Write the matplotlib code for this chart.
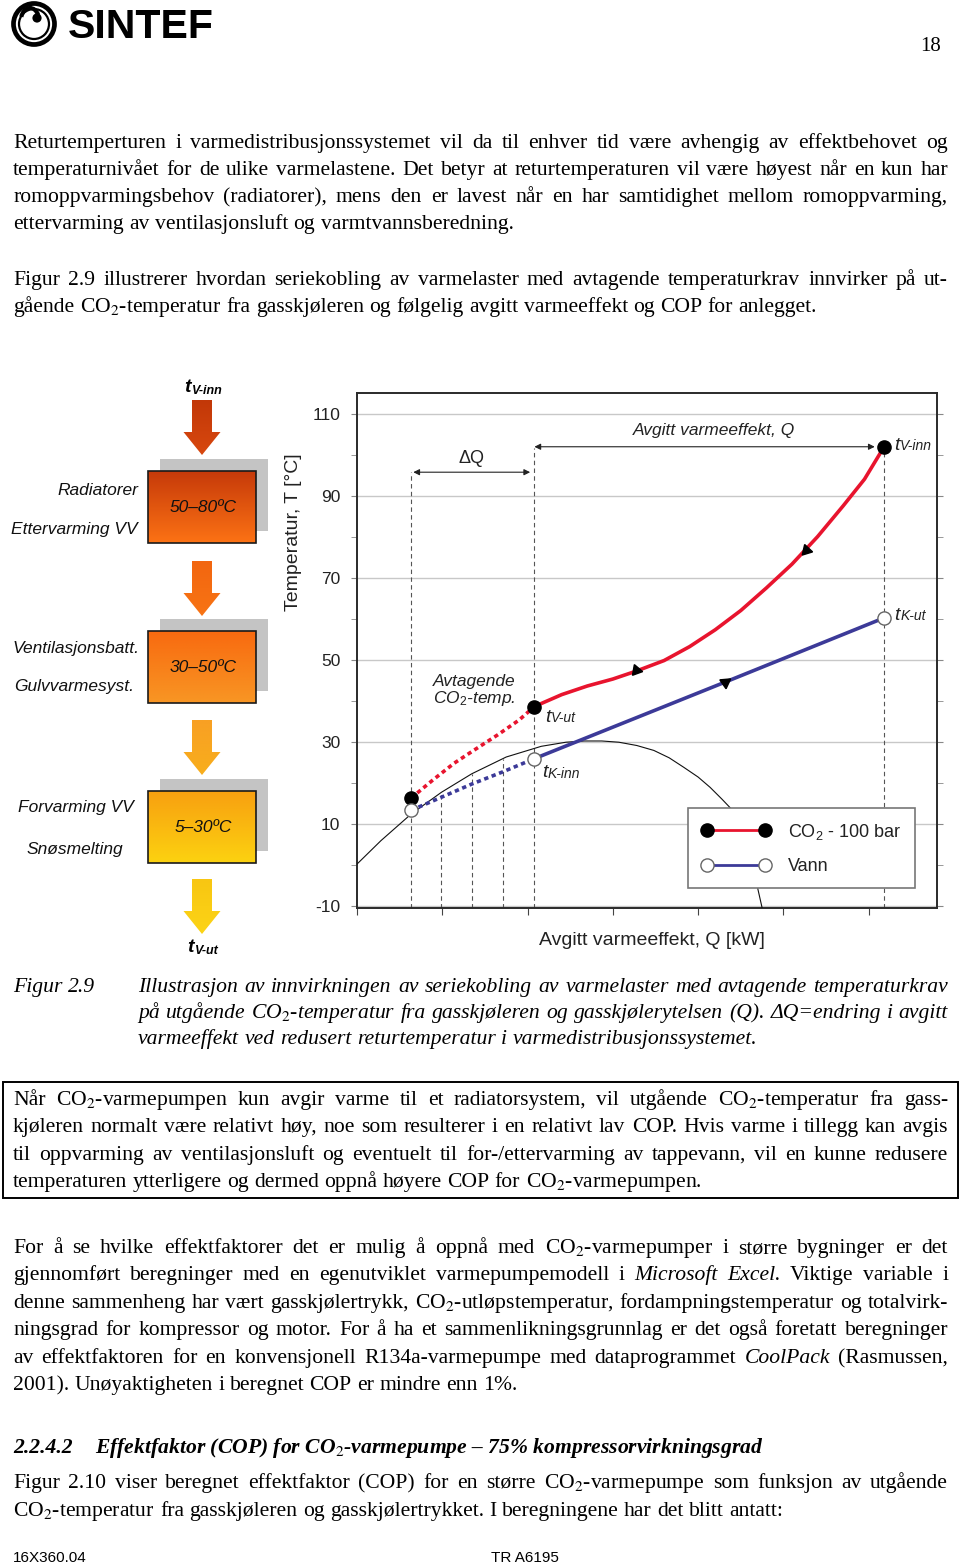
import matplotlib
matplotlib.use("Agg")
import matplotlib.pyplot as plt
import numpy as np
from matplotlib.patches import Rectangle, Polygon, Circle, Arc
from matplotlib.lines import Line2D
from matplotlib.colors import to_rgb

plt.rcParams['mathtext.fontset'] = 'custom'
plt.rcParams['mathtext.rm'] = 'Liberation Sans'
plt.rcParams['mathtext.it'] = 'Liberation Sans:italic'
plt.rcParams['font.family'] = ['Liberation Sans', 'DejaVu Sans']

SERIF = ['Liberation Serif', 'DejaVu Serif']
SANS = ['Liberation Sans', 'DejaVu Sans']

# ---------------- data ----------------
q_ticks = [0, 1, 2, 3, 4, 5, 6]
T_major = [-10, 10, 30, 50, 70, 90, 110]
T_minor = [0, 20, 40, 60, 80, 100]

co2_q = [2.08, 2.4, 2.7, 3.0, 3.27, 3.6, 3.9, 4.2, 4.5, 4.8, 5.1, 5.4, 5.7, 5.95, 6.18]
co2_T = [38.6, 41.5, 43.6, 45.3, 47.2, 49.8, 53.2, 57.3, 62.0, 67.5, 73.3, 80.0, 87.5, 94.0, 101.9]
co2_dot_q = [0.635, 0.89, 1.14, 1.345, 1.65, 1.90, 2.08]
co2_dot_T = [16.3, 20.7, 24.8, 27.6, 31.7, 35.3, 38.6]
water_q = [2.08, 4.31, 6.18]
water_T = [25.9, 44.5, 60.2]
water_dot_q = [0.635, 0.99, 1.345, 1.70, 2.08]
water_dot_T = [13.3, 16.5, 19.7, 22.6, 25.9]
dome_q = [0.0, 0.28, 0.635, 0.99, 1.345, 1.75, 2.16, 2.45, 2.665, 2.87, 3.07, 3.28, 3.48, 3.66, 3.83, 4.0, 4.14, 4.28, 4.39, 4.5, 4.59, 4.66, 4.70, 4.75]
dome_T = [0.2, 5.9, 12.4, 17.7, 22.2, 26.3, 28.9, 29.9, 30.2, 30.2, 29.9, 29.1, 27.9, 26.1, 23.8, 21.4, 18.9, 16.0, 13.6, 10.2, 5.9, 1.0, -5.9, -10.5]
co2_pts_q = [0.635, 2.08, 6.18]
co2_pts_T = [16.3, 38.6, 101.9]
water_pts_q = [0.635, 2.08, 6.18]
water_pts_T = [13.3, 25.9, 60.2]
vline_q = [0.635, 0.99, 1.345, 1.71, 2.08, 6.18]
vline_top = [95.7, 17.7, 22.2, 25.9, 101.7, 101.9]
co2_arrow_q = [5.26, 3.27]
co2_arrow_T = [76.8, 47.4]
water_arrow_q = [4.31]
water_arrow_T = [44.5]
q_span = [2.08, 6.07]
q_span_T = 101.9
dq_span = [0.66, 2.03]
dq_span_T = 95.7
legend_labels = ['CO$_2$ - 100 bar', 'Vann']

stage_ranges = ['50–80ºC', '30–50ºC', '5–30ºC']
stage_left = [('Radiatorer', 'Ettervarming VV'), ('Ventilasjonsbatt.', 'Gulvvarmesyst.'), ('Forvarming VV', 'Snøsmelting')]

RED = '#e8142e'
BLUE = '#3c3a98'
DARK = '#222222'
BODY = 15.6

fig = plt.figure(figsize=(9.6, 15.63), dpi=100)
ov = fig.add_axes([0, 0, 1, 1])
ov.set_xlim(0, 960)
ov.set_ylim(1563, 0)
ov.axis('off')
ov.set_autoscale_on(False)
renderer = fig.canvas.get_renderer()

# ---------------- header ----------------
ov.add_patch(Circle((34, 24), 20.5, fill=False, ec='black', lw=3.4))
ov.add_patch(Circle((34, 24), 15.0, fill=False, ec='black', lw=1.6))
ov.add_patch(Circle((37, 18), 4.6, fc='black', ec='none'))
ov.add_patch(Arc((30, 20), 18, 24, theta1=200, theta2=330, ec='black', lw=3.0))
ov.text(68, 38, 'SINTEF', fontsize=29.5, fontweight='bold', family=SANS, ha='left', va='baseline')
ov.text(941, 51, '18', fontsize=15, family=SERIF, ha='right', va='baseline')

# ---------------- paragraph helper ----------------
space_w = 5.4


def text_line(y, s, x0=13, x1=948, justify=True, size=BODY, style='normal', weight='normal'):
    toks = s.split(' ')
    arts, widths = [], []
    for tok in toks:
        st = style
        if tok.startswith('~'):
            tok = tok[1:]
            st = 'italic'
        t = ov.text(0, y, tok, fontsize=size, fontstyle=st, fontweight=weight,
                    family=SERIF, math_fontfamily='stix', ha='left', va='baseline', color='black')
        w = t.get_window_extent(renderer=renderer).width
        arts.append(t)
        widths.append(w)
    if justify and len(toks) > 1:
        gap = (x1 - x0 - sum(widths)) / (len(toks) - 1)
    else:
        gap = space_w
    x = x0
    for t, w in zip(arts, widths):
        t.set_x(x)
        x += w + gap


para1 = [
    'Returtemperturen i varmedistribusjonssystemet vil da til enhver tid være avhengig av effektbehovet og',
    'temperaturnivået for de ulike varmelastene. Det betyr at returtemperaturen vil være høyest når en kun har',
    'romoppvarmingsbehov (radiatorer), mens den er lavest når en har samtidighet mellom romoppvarming,',
    'ettervarming av ventilasjonsluft og varmtvannsberedning.',
]
for i, (yy, s) in enumerate(zip([148, 175, 202, 229], para1)):
    text_line(yy, s, justify=(i < 3))

para2 = [
    'Figur 2.9 illustrerer hvordan seriekobling av varmelaster med avtagende temperaturkrav innvirker på ut-',
    'gående CO$_2$-temperatur fra gasskjøleren og følgelig avgitt varmeeffekt og COP for anlegget.',
]
for i, (yy, s) in enumerate(zip([285, 312], para2)):
    text_line(yy, s, justify=(i < 1))

# caption
text_line(992, 'Figur 2.9', x0=13, justify=False, style='italic')
cap = [
    'Illustrasjon av innvirkningen av seriekobling av varmelaster med avtagende temperaturkrav',
    'på utgående CO$_2$-temperatur fra gasskjøleren og gasskjølerytelsen (Q). ΔQ=endring i avgitt',
    'varmeeffekt ved redusert returtemperatur i varmedistribusjonssystemet.',
]
for i, (yy, s) in enumerate(zip([992, 1018, 1044], cap)):
    text_line(yy, s, x0=138, justify=(i < 2), style='italic')

# boxed paragraph
ov.add_patch(Rectangle((3, 1082), 955, 116, fill=False, ec='black', lw=1.4))
boxp = [
    'Når CO$_2$-varmepumpen kun avgir varme til et radiatorsystem, vil utgående CO$_2$-temperatur fra gass-',
    'kjøleren normalt være relativt høy, noe som resulterer i en relativt lav COP. Hvis varme i tillegg kan avgis',
    'til oppvarming av ventilasjonsluft og eventuelt til for-/ettervarming av tappevann, vil en kunne redusere',
    'temperaturen ytterligere og dermed oppnå høyere COP for CO$_2$-varmepumpen.',
]
for i, (yy, s) in enumerate(zip([1105, 1132, 1160, 1187], boxp)):
    text_line(yy, s, justify=(i < 3))

para3 = [
    'For å se hvilke effektfaktorer det er mulig å oppnå med CO$_2$-varmepumper i større bygninger er det',
    'gjennomført beregninger med en egenutviklet varmepumpemodell i ~Microsoft ~Excel. Viktige variable i',
    'denne sammenheng har vært gasskjølertrykk, CO$_2$-utløpstemperatur, fordampningstemperatur og totalvirk-',
    'ningsgrad for kompressor og motor. For å ha et sammenlikningsgrunnlag er det også foretatt beregninger',
    'av effektfaktoren for en konvensjonell R134a-varmepumpe med dataprogrammet ~CoolPack (Rasmussen,',
    '2001). Unøyaktigheten i beregnet COP er mindre enn 1%.',
]
for i, (yy, s) in enumerate(zip([1253, 1280, 1308, 1335, 1363, 1390], para3)):
    text_line(yy, s, justify=(i < 5))

ov.text(13, 1453, '2.2.4.2', fontsize=BODY, fontstyle='italic', fontweight='bold', family=SERIF,
        ha='left', va='baseline')
ov.text(95, 1453, 'Effektfaktor (COP) for CO$_2$-varmepumpe – 75% kompressorvirkningsgrad', fontsize=BODY,
        fontstyle='italic', fontweight='bold', family=SERIF, math_fontfamily='stix', ha='left', va='baseline')

para4 = [
    'Figur 2.10 viser beregnet effektfaktor (COP) for en større CO$_2$-varmepumpe som funksjon av utgående',
    'CO$_2$-temperatur fra gasskjøleren og gasskjølertrykket. I beregningene har det blitt antatt:',
]
for i, (yy, s) in enumerate(zip([1488, 1516], para4)):
    text_line(yy, s, justify=(i < 1))

ov.text(13, 1562, '16X360.04', fontsize=11, family=SANS, ha='left', va='baseline')
ov.text(491, 1562, 'TR A6195', fontsize=11, family=SANS, ha='left', va='baseline')

# ---------------- left diagram ----------------
def vgrad(c_top, c_bot, n=64):
    a = np.array(to_rgb(c_top))
    b = np.array(to_rgb(c_bot))
    t = np.linspace(0, 1, n)[:, None]
    return (a * (1 - t) + b * t)[:, None, :]


def flow_arrow(y0, c_top, c_bot, cx=202):
    pts = [(cx - 10, y0), (cx + 10, y0), (cx + 10, y0 + 32), (cx + 18.5, y0 + 32),
           (cx, y0 + 55), (cx - 18.5, y0 + 32), (cx - 10, y0 + 32)]
    poly = Polygon(pts, closed=True, fc='none', ec='none')
    ov.add_patch(poly)
    im = ov.imshow(vgrad(c_top, c_bot), extent=(cx - 19, cx + 19, y0 + 55, y0), origin='upper',
                   aspect='auto', interpolation='bilinear', zorder=2)
    im.set_clip_path(poly)


def stage_box(y0, c_top, c_bot, label):
    ov.add_patch(Rectangle((160, y0 - 12), 108, 72, fc='#c4c4c4', ec='none', zorder=1))
    ov.imshow(vgrad(c_top, c_bot), extent=(148, 256, y0 + 72, y0), origin='upper',
              aspect='auto', interpolation='bilinear', zorder=2)
    ov.add_patch(Rectangle((148, y0), 108, 72, fill=False, ec='#1a1a1a', lw=1.2, zorder=3))
    ov.text(203, y0 + 37, label, fontsize=12.5, fontstyle='italic', family=SANS,
            ha='center', va='center', color='#111', zorder=4)


flow_arrow(400, '#c23808', '#d8480f')
flow_arrow(561, '#f26610', '#f87414')
flow_arrow(720, '#f8a024', '#f8ae1c')
flow_arrow(879, '#f8c612', '#fcd416')
stage_box(471, '#c63a0a', '#fc7214', stage_ranges[0])
stage_box(631, '#f86a10', '#f89624', stage_ranges[1])
stage_box(791, '#f8a010', '#fcd210', stage_ranges[2])

left_pos = [((138, 495), (138, 534)), ((139, 653), (134, 691)), ((134, 812), (123, 854))]
for (a, b), ((xa, ya), (xb, yb)) in zip(stage_left, left_pos):
    ov.text(xa, ya, a, fontsize=12.5, fontstyle='italic', family=SANS, ha='right', va='baseline', color='#111')
    ov.text(xb, yb, b, fontsize=12.5, fontstyle='italic', family=SANS, ha='right', va='baseline', color='#111')

ov.text(184, 392, 't', fontsize=14, fontstyle='italic', fontweight='bold', family=SANS, ha='left', va='baseline')
ov.text(192, 394, 'V-inn', fontsize=9, fontstyle='italic', fontweight='bold', family=SANS, ha='left', va='baseline')
ov.text(187, 952, 't', fontsize=14, fontstyle='italic', fontweight='bold', family=SANS, ha='left', va='baseline')
ov.text(195, 954, 'V-ut', fontsize=9, fontstyle='italic', fontweight='bold', family=SANS, ha='left', va='baseline')

# ---------------- chart ----------------
W, H = 960, 1563
ax = fig.add_axes([357 / W, (H - 908) / H, 580 / W, 515 / H])
ax.set_xlim(0, 6.8)
ax.set_ylim(-10.5, 115)
ax.set_xticks(q_ticks)
ax.set_xticklabels([])
ax.set_yticks(T_major)
ax.set_yticks(T_minor, minor=True)
ax.set_yticklabels([str(v) for v in T_major])
ax.tick_params(axis='y', which='both', left=True, right=True, direction='out', length=4,
               color='#888', labelsize=12.5, labelcolor=DARK, pad=8)
ax.tick_params(axis='x', which='both', bottom=True, direction='out', length=5, color='#444')
ax.grid(axis='y', which='major', color='#c8c8c8', lw=1.0, zorder=0)
ax.set_axisbelow(True)
for sp in ax.spines.values():
    sp.set_color('#2a2a2a')
    sp.set_linewidth(1.4)

for q, top in zip(vline_q, vline_top):
    ax.plot([q, q], [-10.5, top], color='#555', lw=0.8, ls=(0, (4, 3)), zorder=2)

ax.plot(dome_q, dome_T, color='#111', lw=0.8, zorder=3)
ax.plot(co2_dot_q, co2_dot_T, color=RED, lw=2.6, ls=(0, (1.2, 1.0)), zorder=4)
ax.plot(water_dot_q, water_dot_T, color=BLUE, lw=2.6, ls=(0, (1.2, 1.0)), zorder=4)
ax.plot(co2_q, co2_T, color=RED, lw=2.6, solid_capstyle='round', zorder=4)
ax.plot(water_q, water_T, color=BLUE, lw=2.6, solid_capstyle='round', zorder=4)

for q, T, rot in zip(co2_arrow_q, co2_arrow_T, [137, 20]):
    ax.plot(q, T, marker=(3, 0, rot), ms=9, color='black', zorder=5)
for q, T, rot in zip(water_arrow_q, water_arrow_T, [185]):
    ax.plot(q, T, marker=(3, 0, rot), ms=9, color='black', zorder=5)

ax.plot(co2_pts_q, co2_pts_T, ls='none', marker='o', ms=9.5, mfc='black', mec='black', zorder=6)
ax.plot(water_pts_q, water_pts_T, ls='none', marker='o', ms=9.5, mfc='white', mec='#666', mew=1.0, zorder=6)

ax.annotate('', xy=(q_span[0], q_span_T), xytext=(q_span[1], q_span_T),
            arrowprops=dict(arrowstyle='<|-|>', color='#222', lw=0.8, mutation_scale=9, shrinkA=0, shrinkB=0))
ax.annotate('', xy=(dq_span[0], dq_span_T), xytext=(dq_span[1], dq_span_T),
            arrowprops=dict(arrowstyle='<|-|>', color='#222', lw=0.8, mutation_scale=9, shrinkA=0, shrinkB=0))
ax.text(4.19, 105.8, 'Avgitt varmeeffekt, Q', fontsize=12.5, fontstyle='italic', color=DARK,
        ha='center', va='center')
ax.text(1.345, 99.0, 'ΔQ', fontsize=13, color=DARK, ha='center', va='center')
ax.text(0.89, 44.7, 'Avtagende', fontsize=12.5, fontstyle='italic', color=DARK, ha='left', va='center')
ax.text(0.89, 40.5, 'CO$_{\\mathit{2}}$-temp.', fontsize=12.5, fontstyle='italic', color=DARK, ha='left', va='center')


def t_label(q, T, sub):
    t = ax.text(q, T, 't', fontsize=14, fontstyle='italic', color=DARK, ha='left', va='center', zorder=7)
    ax.annotate(sub, xy=(1, 0), xycoords=t, xytext=(0.3, 0.5), textcoords='offset points',
                fontsize=10, fontstyle='italic', color=DARK, ha='left', va='bottom', zorder=7)


t_label(6.30, 102.3, 'V-inn')
t_label(6.30, 60.8, 'K-ut')
t_label(2.20, 36.0, 'V-ut')
t_label(2.17, 22.4, 'K-inn')

ax.text(-0.110, 0.730, 'Temperatur, T [°C]', transform=ax.transAxes, rotation=90,
        fontsize=14, color=DARK, ha='center', va='center')
ax.text(0.509, -0.064, 'Avgitt varmeeffekt, Q [kW]', transform=ax.transAxes,
        fontsize=14, color=DARK, ha='center', va='center')

h_co2 = Line2D([], [], color=RED, lw=2, marker='o', ms=9.5, mfc='black', mec='black')
h_w = Line2D([], [], color=BLUE, lw=2, marker='o', ms=9.5, mfc='white', mec='#666')
leg = ax.legend([h_co2, h_w], legend_labels, loc='upper left', bbox_to_anchor=(0.571, 0.194),
                numpoints=2, handlelength=3.8, handletextpad=1.0, labelspacing=0.9, borderpad=0.75,
                borderaxespad=0, fontsize=13, frameon=True, fancybox=False, framealpha=1,
                edgecolor='#777', labelcolor=DARK)
leg.get_frame().set_linewidth(1.2)
leg.set_zorder(10)

fig.savefig('out.png', dpi=100)
